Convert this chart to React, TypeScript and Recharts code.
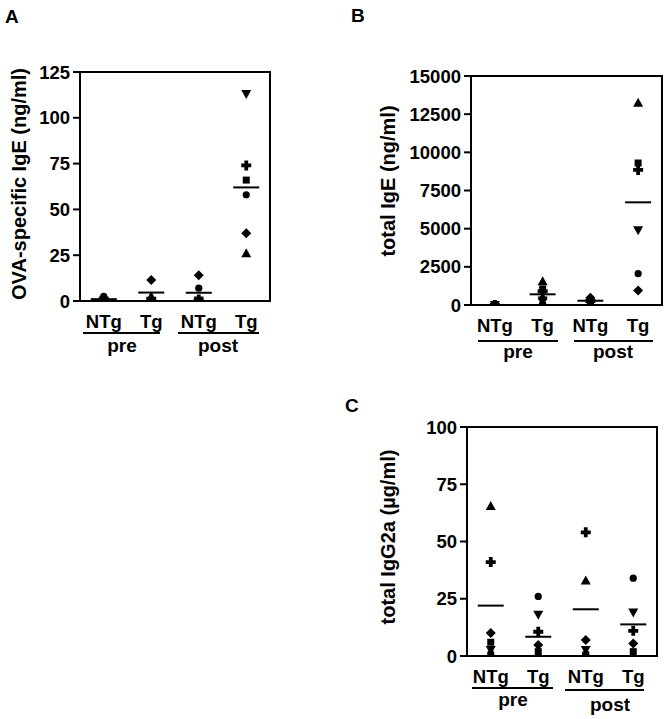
import React from 'react';
import { ScatterChart, Scatter, XAxis, YAxis, ReferenceArea } from 'recharts';

const FONT = '"Liberation Sans", Arial, Helvetica, sans-serif';

// categories
const groups = ['NTg', 'Tg', 'NTg', 'Tg'];
const phases = ['pre', 'post'];

// Panel A: OVA-specific IgE (ng/ml)
const ovaTicks = [0, 25, 50, 75, 100, 125];
const ovaUp = [1, 2.5, 0.5, 26];
const ovaDown = [0.3, 0.2, 0.3, 113];
const ovaSquare = [0, 0, 0, 66];
const ovaCircle = [2.5, 0.3, 7, 58];
const ovaDiamond = [0.5, 11.5, 14, 37];
const ovaPlus = [1, 1, 0.8, 74];
const ovaMean = [1, 4.6, 4.5, 62];

// Panel B: total IgE (ng/ml)
const igeTicks = [0, 2500, 5000, 7500, 10000, 12500, 15000];
const igeUp = [0, 1550, 100, 13250];
const igeDown = [0, 300, 150, 4900];
const igeSquare = [0, 1050, 0, 9300];
const igeCircle = [0, 80, 150, 2050];
const igeDiamond = [0, 400, 480, 950];
const igePlus = [0, 900, 250, 8850];
const igeMean = [0, 700, 280, 6725];

// Panel C: total IgG2a (µg/ml)
const g2aTicks = [0, 25, 50, 75, 100];
const g2aUp = [65.5, 0.5, 33, 0.5];
const g2aDown = [2.6, 18, 2.6, 19];
const g2aSquare = [6, 1.9, 0.5, 1.9];
const g2aCircle = [1, 26, 0.3, 34];
const g2aDiamond = [10, 4.8, 7, 5.5];
const g2aPlus = [41, 10.6, 54, 11];
const g2aMean = [22, 8.4, 20.4, 13.8];

const toPoints = (vals: number[]) => vals.map((v, i) => ({ x: i + 1, y: v }));

const up = (p: any) => (
  <polygon points={`${p.cx},${p.cy - 5} ${p.cx + 5},${p.cy + 4} ${p.cx - 5},${p.cy + 4}`} fill="#000" />
);
const down = (p: any) => (
  <polygon points={`${p.cx - 5},${p.cy - 4} ${p.cx + 5},${p.cy - 4} ${p.cx},${p.cy + 5}`} fill="#000" />
);
const square = (p: any) => <rect x={p.cx - 3.5} y={p.cy - 3.5} width={7} height={7} fill="#000" />;
const circle = (p: any) => <circle cx={p.cx} cy={p.cy} r={3.6} fill="#000" />;
const diamond = (p: any) => (
  <polygon points={`${p.cx},${p.cy - 5} ${p.cx + 5},${p.cy} ${p.cx},${p.cy + 5} ${p.cx - 5},${p.cy}`} fill="#000" />
);
const plus = (p: any) => {
  const a = 5, t = 1.9;
  const { cx, cy } = p;
  return (
    <path
      d={`M${cx - t},${cy - a}H${cx + t}V${cy - t}H${cx + a}V${cy + t}H${cx + t}V${cy + a}H${cx - t}V${cy + t}H${cx - a}V${cy - t}H${cx - t}Z`}
      fill="#000"
    />
  );
};
const meanLine = (p: any) => (
  <line x1={p.cx - 13} x2={p.cx + 13} y1={p.cy} y2={p.cy} stroke="#000" strokeWidth={2} />
);

const tickStyle = { fill: '#000', fontSize: 18.5, fontWeight: 700, fontFamily: FONT };

type PanelProps = {
  left: number; top: number; width: number; height: number;
  margin: { top: number; right: number; bottom: number; left: number };
  yMax: number; yTicks: number[];
  series: { data: number[]; shape: any }[];
  mean: number[];
};

function Panel({ left, top, width, height, margin, yMax, yTicks, series, mean }: PanelProps) {
  const line = { stroke: '#000', strokeWidth: 2 };
  return (
    <div style={{ position: 'absolute', left, top, width, height }}>
      <ScatterChart width={width} height={height} margin={margin}>
        <XAxis
          type="number"
          dataKey="x"
          domain={[0.5, 4.5]}
          ticks={[1, 2, 3, 4]}
          tickFormatter={(v: number) => groups[v - 1]}
          axisLine={line}
          tickLine={false}
          tickSize={0}
          tickMargin={14}
          height={30}
          tick={tickStyle}
          allowDataOverflow
        />
        <YAxis
          type="number"
          dataKey="y"
          domain={[0, yMax]}
          ticks={yTicks}
          axisLine={line}
          tickLine={line}
          tickSize={7}
          tickMargin={3}
          width={60}
          tick={tickStyle}
          interval={0}
          allowDataOverflow
        />
        <ReferenceArea x1={0.5} x2={4.5} y1={0} y2={yMax} fill="none" stroke="#000" strokeWidth={2} ifOverflow="visible" />
        {series.map((s, i) => (
          <Scatter key={i} data={toPoints(s.data)} shape={s.shape} isAnimationActive={false} />
        ))}
        <Scatter data={toPoints(mean)} shape={meanLine} isAnimationActive={false} />
      </ScatterChart>
    </div>
  );
}

const textStyle = { fontFamily: FONT, fontWeight: 700, fill: '#000' } as const;

function VLabel({ x, y, text, size = 20 }: { x: number; y: number; text: string; size?: number }) {
  return (
    <text transform={`translate(${x},${y}) rotate(-90)`} textAnchor="middle" fontSize={size} style={textStyle}>
      {text}
    </text>
  );
}

function Group({ x1, x2, y, ty, tx, label }: { x1: number; x2: number; y: number; ty: number; tx: number; label: string }) {
  return (
    <g>
      <line x1={x1} x2={x2} y1={y} y2={y} stroke="#000" strokeWidth={2} />
      <text x={tx} y={ty} textAnchor="middle" fontSize={19} style={textStyle}>{label}</text>
    </g>
  );
}

export default function App() {
  return (
    <div style={{ position: 'absolute', left: 0, top: 0, width: 667, height: 719, background: '#fff', fontFamily: FONT }}>
      <Panel
        left={0} top={0} width={290} height={360}
        margin={{ top: 72, right: 20, bottom: 29, left: 20 }}
        yMax={125} yTicks={ovaTicks}
        series={[
          { data: ovaUp, shape: up },
          { data: ovaDown, shape: down },
          { data: ovaSquare, shape: square },
          { data: ovaCircle, shape: circle },
          { data: ovaDiamond, shape: diamond },
          { data: ovaPlus, shape: plus },
        ]}
        mean={ovaMean}
      />
      <Panel
        left={340} top={0} width={327} height={360}
        margin={{ top: 76, right: 5, bottom: 25, left: 71 }}
        yMax={15000} yTicks={igeTicks}
        series={[
          { data: igeUp, shape: up },
          { data: igeDown, shape: down },
          { data: igeSquare, shape: square },
          { data: igeCircle, shape: circle },
          { data: igeDiamond, shape: diamond },
          { data: igePlus, shape: plus },
        ]}
        mean={igeMean}
      />
      <Panel
        left={340} top={360} width={327} height={359}
        margin={{ top: 67, right: 10, bottom: 33, left: 67 }}
        yMax={100} yTicks={g2aTicks}
        series={[
          { data: g2aUp, shape: up },
          { data: g2aDown, shape: down },
          { data: g2aSquare, shape: square },
          { data: g2aCircle, shape: circle },
          { data: g2aDiamond, shape: diamond },
          { data: g2aPlus, shape: plus },
        ]}
        mean={g2aMean}
      />
      <svg width={667} height={719} style={{ position: 'absolute', left: 0, top: 0, pointerEvents: 'none' }}>
        <text x={5} y={23} fontSize={19} style={textStyle}>A</text>
        <text x={351} y={22} fontSize={19} style={textStyle}>B</text>
        <text x={345} y={412} fontSize={19} style={textStyle}>C</text>

        <VLabel x={26} y={184} text="OVA-specific IgE (ng/ml)" />
        <VLabel x={395} y={181} text="total IgE (ng/ml)" />
        <VLabel x={395} y={537} text="total IgG2a (µg/ml)" />

        <Group x1={83} x2={160} y={333} tx={122} ty={351.5} label={phases[0]} />
        <Group x1={178} x2={259} y={333} tx={218} ty={352} label={phases[1]} />
        <Group x1={478} x2={558} y={341} tx={518} ty={358} label={phases[0]} />
        <Group x1={574} x2={653} y={341} tx={613} ty={358} label={phases[1]} />
        <Group x1={472} x2={553} y={688} tx={513} ty={706} label={phases[0]} />
        <Group x1={565} x2={644} y={690} tx={610} ty={711} label={phases[1]} />
      </svg>
    </div>
  );
}
